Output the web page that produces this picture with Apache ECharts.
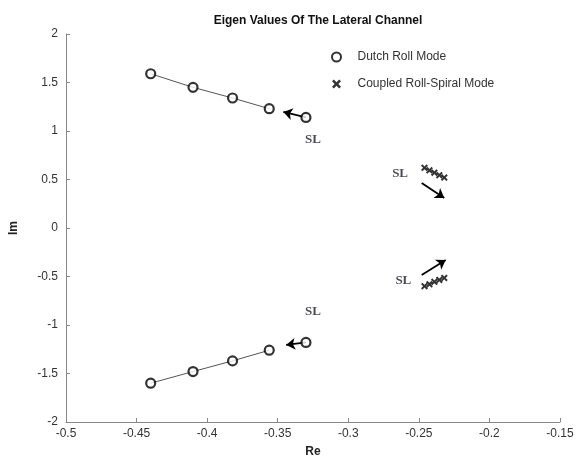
<!DOCTYPE html>
<html>
<head>
<meta charset="utf-8">
<script src="https://cdn.jsdelivr.net/npm/echarts@6/dist/echarts.min.js"></script>
<style>html,body{margin:0;padding:0;background:#fff}#c{width:578px;height:463px}</style>
</head>
<body>
<div id="c"></div>
<script>
// Data
var title = 'Eigen Values Of The Lateral Channel';
var xTicks = { min: -0.5, max: -0.15, step: 0.05 };
var yTicks = { min: -2, max: 2, step: 0.5 };
var dutchRe = [-0.44, -0.41, -0.382, -0.356, -0.33];
var dutchImUp = [1.59, 1.45, 1.34, 1.23, 1.14];
var dutchImLow = [-1.60, -1.48, -1.37, -1.26, -1.18];
var spiralRe = [-0.246, -0.2425, -0.239, -0.2355, -0.232];
var spiralImUp = [0.62, 0.595, 0.57, 0.545, 0.52];
var spiralImLow = [-0.60, -0.58, -0.555, -0.535, -0.515];
// arrows: [fromRe, fromIm, toRe, toIm]
var arrows = [
  [-0.33, 1.14, -0.346, 1.196],
  [-0.33, -1.18, -0.344, -1.206],
  [-0.248, 0.464, -0.232, 0.31],
  [-0.248, -0.485, -0.231, -0.33]
];
var slLabels = [[-0.325, 0.907], [-0.2633, 0.557], [-0.261, -0.546], [-0.325, -0.866]];

function pairs(xs, ys, n) {
  var out = [];
  for (var i = 0; i < (n || xs.length); i++) out.push([xs[i], ys[i]]);
  return out;
}
var crossPath = 'path://M0,2L2,0L5,3L8,0L10,2L7,5L10,8L8,10L5,7L2,10L0,8L3,5Z';
var chart = echarts.init(document.getElementById('c'));
var axisFont = { fontFamily: 'Liberation Sans, Arial, sans-serif', fontSize: 12, color: '#333' };
chart.setOption({
  animation: false,
  title: {
    text: title, left: 313, top: 10, textAlign: 'center',
    textStyle: { fontFamily: 'Liberation Sans, Arial, sans-serif', fontSize: 12, fontWeight: 'bold', color: '#111' }
  },
  legend: {
    data: ['Dutch Roll Mode', 'Coupled Roll-Spiral Mode'],
    orient: 'vertical', left: 326, top: 46, itemGap: 15, itemWidth: 20, itemHeight: 9,
    textStyle: { fontFamily: 'Liberation Sans, Arial, sans-serif', fontSize: 12, color: '#333', padding: [0, 0, 0, 6] }
  },
  grid: { left: 66, right: 18, top: 34, bottom: 41 },
  xAxis: {
    type: 'value', min: xTicks.min, max: xTicks.max, interval: xTicks.step,
    name: 'Re', nameLocation: 'middle', nameGap: 24,
    nameTextStyle: { fontFamily: 'Liberation Sans, Arial, sans-serif', fontSize: 12, fontWeight: 'bold', color: '#222' },
    axisLine: { onZero: false, lineStyle: { color: '#888', width: 1 } },
    axisTick: { inside: true, length: 4, lineStyle: { color: '#888' } },
    axisLabel: Object.assign({ margin: 6, formatter: function (v) { return String(+v.toFixed(2)); } }, axisFont),
    splitLine: { show: false }
  },
  yAxis: {
    type: 'value', min: yTicks.min, max: yTicks.max, interval: yTicks.step,
    name: 'Im', nameLocation: 'middle', nameGap: 46, nameRotate: 90,
    nameTextStyle: { fontFamily: 'Liberation Sans, Arial, sans-serif', fontSize: 12, fontWeight: 'bold', color: '#222' },
    axisLine: { onZero: false, lineStyle: { color: '#888', width: 1 } },
    axisTick: { inside: true, length: 4, lineStyle: { color: '#888' } },
    axisLabel: Object.assign({ margin: 8, formatter: function (v) { return String(+v.toFixed(2)); } }, axisFont),
    splitLine: { show: false }
  },
  series: [
    {
      name: 'chainUp', type: 'line', data: pairs(dutchRe, dutchImUp, 4), symbol: 'none',
      lineStyle: { color: '#555', width: 1 }, silent: true
    },
    {
      name: 'chainLow', type: 'line', data: pairs(dutchRe, dutchImLow, 4), symbol: 'none',
      lineStyle: { color: '#555', width: 1 }, silent: true
    },
    {
      name: 'arrows', type: 'lines', coordinateSystem: 'cartesian2d',
      symbol: ['none', 'arrow'], symbolSize: 9,
      lineStyle: { color: '#000', width: 1.8, opacity: 1 },
      data: arrows.map(function (a) { return { coords: [[a[0], a[1]], [a[2], a[3]]] }; })
    },
    {
      name: 'Dutch Roll Mode', type: 'scatter', symbol: 'circle', symbolSize: 9,
      itemStyle: { color: '#fff', borderColor: '#000', borderWidth: 2.2 },
      data: pairs(dutchRe, dutchImUp).concat(pairs(dutchRe, dutchImLow)), z: 5
    },
    {
      name: 'Coupled Roll-Spiral Mode', type: 'scatter', symbol: crossPath, symbolSize: 7,
      itemStyle: { color: '#000' },
      data: pairs(spiralRe, spiralImUp).concat(pairs(spiralRe, spiralImLow)), z: 5
    },
    {
      name: 'SL', type: 'scatter', symbolSize: 0, silent: true,
      data: slLabels,
      label: {
        show: true, position: 'inside', formatter: 'SL',
        fontFamily: 'Liberation Serif, Times New Roman, serif', fontWeight: 'bold', fontSize: 13, color: '#1a1a2e'
      }
    }
  ]
});
</script>
</body>
</html>
